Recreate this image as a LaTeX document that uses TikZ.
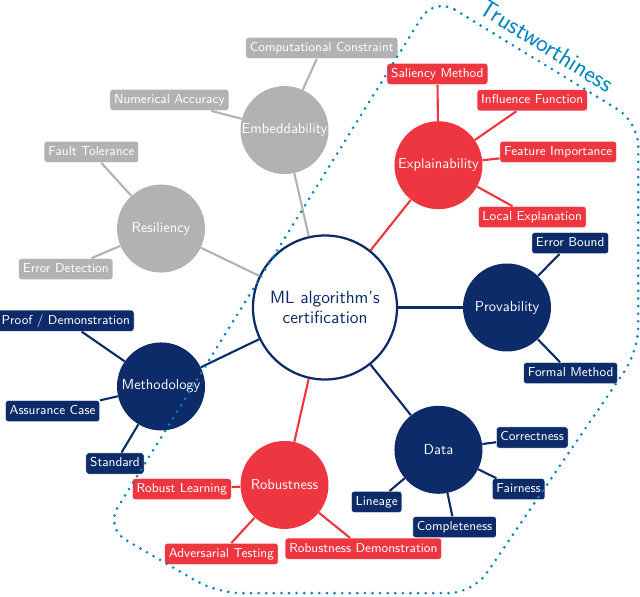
\documentclass[tikz,border=0pt]{standalone}
\usepackage{tikz}

\definecolor{mlred}{RGB}{237,54,64}
\definecolor{mlblue}{RGB}{12,43,104}
\definecolor{mlgray}{RGB}{178,178,178}
\definecolor{mlteal}{RGB}{0,133,188}

\tikzset{
  hub/.style={circle,draw=mlblue,fill=white,line width=1.6pt,minimum size=3.6cm,
    inner sep=0pt,text=mlblue,align=center,font=\sffamily\fontsize{12.6}{14.2}\selectfont},
  sat/.style={circle,minimum size=2.2cm,inner sep=0pt,text=white,
    font=\sffamily\fontsize{10.3}{12}\selectfont},
  leaf/.style={rounded corners=2pt,draw=white,line width=0.4pt,text=white,
    font=\sffamily\fontsize{9.2}{11}\selectfont,minimum height=0.5cm,inner xsep=3pt,
    text height=6.6pt,text depth=1.9pt},
  link/.style={line width=1.5pt}
}

\begin{document}
\begin{tikzpicture}
        \useasboundingbox (-8.125,-7.2125) rectangle (7.875,7.6875) ;
        % centre
        \node[hub] (cert) at (0,0) {ML algorithm's\\certification} ;
        % seven branches, 360/7 apart
        \node[sat,fill=mlblue] (prov) at (0:4.55) {Provability} ;
        \node[sat,fill=mlred] (expl) at (51.43:4.55) {Explainability} ;
        \node[sat,fill=mlgray] (embe) at (102.86:4.55) {Embeddability} ;
        \node[sat,fill=mlgray] (resi) at (154.29:4.55) {Resiliency} ;
        \node[sat,fill=mlblue] (meth) at (205.71:4.55) {Methodology} ;
        \node[sat,fill=mlred] (robu) at (257.14:4.55) {Robustness} ;
        \node[sat,fill=mlblue] (data) at (308.57:4.55) {Data} ;
        % leaves
        \node[leaf,fill=mlgray] (comp) at (-0.08,6.49) {Computational Constraint} ;
        \node[leaf,fill=mlgray] (nume) at (-3.89,5.19) {Numerical Accuracy} ;
        \node[leaf,fill=mlgray] (faul) at (-5.84,3.89) {Fault Tolerance} ;
        \node[leaf,fill=mlgray] (errd) at (-6.48,0.96) {Error Detection} ;
        \node[leaf,fill=mlred] (sali) at (2.81,5.84) {Saliency Method} ;
        \node[leaf,fill=mlred] (infl) at (5.18,5.18) {Influence Function} ;
        \node[leaf,fill=mlred] (feat) at (5.83,3.89) {Feature Importance} ;
        \node[leaf,fill=mlred] (loca) at (5.18,2.26) {Local Explanation} ;
        \node[leaf,fill=mlblue] (errb) at (6.13,1.61) {Error Bound} ;
        \node[leaf,fill=mlblue] (form) at (6.14,-1.64) {Formal Method} ;
        \node[leaf,fill=mlblue] (proo) at (-6.48,-0.33) {Proof / Demonstration} ;
        \node[leaf,fill=mlblue] (assu) at (-6.81,-2.59) {Assurance Case} ;
        \node[leaf,fill=mlblue] (stan) at (-5.25,-3.90) {Standard} ;
        \node[leaf,fill=mlblue] (corr) at (5.18,-3.25) {Correctness} ;
        \node[leaf,fill=mlblue] (fair) at (4.84,-4.54) {Fairness} ;
        \node[leaf,fill=mlblue] (line) at (1.29,-4.86) {Lineage} ;
        \node[leaf,fill=mlblue] (cmpl) at (3.24,-5.49) {Completeness} ;
        \node[leaf,fill=mlred] (rlea) at (-3.58,-4.54) {Robust Learning} ;
        \node[leaf,fill=mlred] (adve) at (-2.59,-6.16) {Adversarial Testing} ;
        \node[leaf,fill=mlred] (rdem) at (0.96,-6.03) {Robustness Demonstration} ;
        % links from the centre
        \draw[link,mlblue] (cert) -- (prov) ;
        \draw[link,mlred] (cert) -- (expl) ;
        \draw[link,mlgray] (cert) -- (embe) ;
        \draw[link,mlgray] (cert) -- (resi) ;
        \draw[link,mlblue] (cert) -- (meth) ;
        \draw[link,mlred] (cert) -- (robu) ;
        \draw[link,mlblue] (cert) -- (data) ;
        % links to the leaves
        \draw[link,mlgray] (embe) -- (comp) ;
        \draw[link,mlgray] (embe) -- (nume) ;
        \draw[link,mlgray] (resi) -- (faul) ;
        \draw[link,mlgray] (resi) -- (errd) ;
        \draw[link,mlred] (expl) -- (sali) ;
        \draw[link,mlred] (expl) -- (infl) ;
        \draw[link,mlred] (expl) -- (feat) ;
        \draw[link,mlred] (expl) -- (loca) ;
        \draw[link,mlblue] (prov) -- (errb) ;
        \draw[link,mlblue] (prov) -- (form) ;
        \draw[link,mlblue] (meth) -- (proo) ;
        \draw[link,mlblue] (meth) -- (assu) ;
        \draw[link,mlblue] (meth) -- (stan) ;
        \draw[link,mlblue] (data) -- (corr) ;
        \draw[link,mlblue] (data) -- (fair) ;
        \draw[link,mlblue] (data) -- (line) ;
        \draw[link,mlblue] (data) -- (cmpl) ;
        \draw[link,mlred] (robu) -- (rlea) ;
        \draw[link,mlred] (robu) -- (adve) ;
        \draw[link,mlred] (robu) -- (rdem) ;
        % trustworthiness area
        \draw[mlteal,line width=2.1pt,line cap=round,dash pattern=on 0pt off 5.4pt,
        rounded corners=0.6cm]
        (2.73,7.76) -- (7.83,4.64) -- (7.83,-1.09) -- (3.7,-7.14) -- (-2.7,-7.14)
        -- (-5.5,-5.51) -- cycle ;
        \node[text=mlteal,rotate=-32,inner sep=0pt,font=\sffamily\fontsize{17.8}{20}\selectfont]
        (trus) at (5.55,6.55) {Trustworthiness} ;
      \end{tikzpicture}
\end{document}
